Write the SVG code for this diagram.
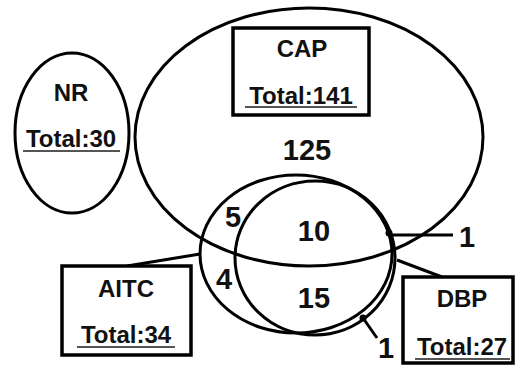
<svg xmlns="http://www.w3.org/2000/svg" width="515" height="365" viewBox="0 0 515 365">
<style>
.e{fill:none;stroke:#000;stroke-width:3}
.b{fill:#fff;stroke:#000;stroke-width:3.5}
.l{stroke:#000;stroke-width:3;fill:none}
.u{stroke:#555;stroke-width:2}
text{font-family:"Liberation Sans",Arial,sans-serif;font-weight:bold;fill:#111;text-anchor:middle}
.t{font-size:24px}
.n{font-size:29px}
</style>
<rect width="515" height="365" fill="#fff"/>
<g id="NR">
<ellipse class="e" cx="72" cy="133" rx="57" ry="80"/>
<text class="t" x="71" y="101">NR</text>
<text class="t" x="71" y="147">Total:30</text>
<line class="u" x1="23" y1="151" x2="120" y2="151"/>
</g>
<g id="CAP">
<ellipse class="e" cx="309" cy="137" rx="174" ry="129"/>
<rect class="b" x="233" y="28" width="136" height="87"/>
<text class="t" x="302" y="57">CAP</text>
<text class="t" x="301" y="104">Total:141</text>
<line class="u" x1="245" y1="107" x2="357" y2="107"/>
<text class="n" x="307" y="160">125</text>
</g>
<g id="AITC">
<ellipse class="e" cx="296" cy="254" rx="96" ry="79"/>
</g>
<g id="DBP">
<ellipse class="e" cx="315" cy="258" rx="80" ry="77"/>
</g>
<g id="connectors">
<line class="l" x1="200" y1="254" x2="127" y2="266"/>
<line class="l" x1="397" y1="260" x2="442" y2="277"/>
<line class="l" x1="389" y1="235" x2="453" y2="235"/>
<circle cx="389" cy="233" r="3.5" fill="#000"/>
<line class="l" x1="363" y1="318" x2="377" y2="338"/>
<circle cx="363" cy="318" r="3.5" fill="#000"/>
</g>
<g id="AITC-label">
<rect class="b" x="62" y="266" width="129" height="89"/>
<text class="t" x="126" y="297">AITC</text>
<text class="t" x="126" y="343">Total:34</text>
<line class="u" x1="77" y1="347" x2="175" y2="347"/>
</g>
<g id="DBP-label">
<rect class="b" x="403" y="277" width="110" height="86"/>
<text class="t" x="462" y="307">DBP</text>
<text class="t" x="462" y="355">Total:27</text>
<line class="u" x1="415" y1="359" x2="510" y2="359"/>
</g>
<g id="counts">
<text class="n" x="233" y="227">5</text>
<text class="n" x="224" y="289">4</text>
<text class="n" x="314" y="241">10</text>
<text class="n" x="314" y="308">15</text>
<text class="n" x="467" y="247">1</text>
<text class="n" x="386" y="358">1</text>
</g>
</svg>
